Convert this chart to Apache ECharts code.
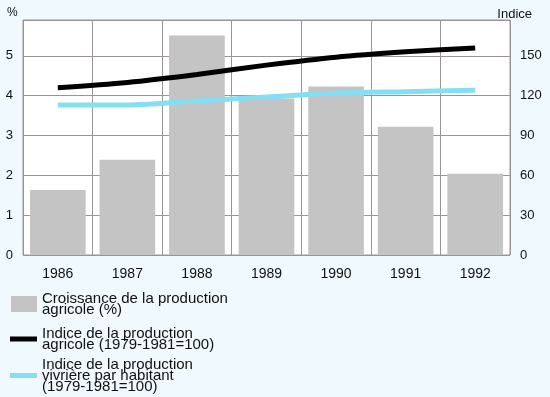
<!DOCTYPE html>
<html><head><meta charset="utf-8">
<script src="https://cdn.jsdelivr.net/npm/echarts@6/dist/echarts.min.js"></script>
<style>html,body{margin:0;padding:0;background:#f0f9fd;}#c{width:550px;height:397px;}</style>
</head><body><div id="c"></div>
<script>
const years = ['1986','1987','1988','1989','1990','1991','1992'];
const croissance = [1.63, 2.39, 5.51, 3.93, 4.23, 3.22, 2.04];
const indiceAgricole = [126, 130, 136, 143, 149, 153, 156];
const indiceVivriere = [113, 113, 116, 119, 122, 123, 124];
const seriesNames = [
  'Croissance de la production\nagricole (%)',
  'Indice de la production\nagricole (1979-1981=100)',
  'Indice de la production\nvivrière par habitant\n(1979-1981=100)'
];
const font = 'Liberation Sans, Arial, sans-serif';
const chart = echarts.init(document.getElementById('c'));
const legendText = {fontFamily: font, fontSize: 15, color: '#111', lineHeight: 11};
chart.setOption({
  backgroundColor: '#f0f9fd',
  animation: false,
  title: [
    {text: '%', left: 2, top: 2, textStyle: {fontFamily: font, fontSize: 12, fontWeight: 'normal', color: '#111'}},
    {text: 'Indice', right: 13, top: 3, textStyle: {fontFamily: font, fontSize: 13, fontWeight: 'normal', color: '#111'}}
  ],
  grid: {left: 23, right: 40, top: 20, bottom: 142, show: true, backgroundColor: '#ffffff', borderColor: '#9a9494', borderWidth: 1},
  legend: [
    {data: [seriesNames[0]], left: 6, top: 286, orient: 'vertical', itemWidth: 26, itemHeight: 16, itemGap: 6, textStyle: legendText, icon: 'rect'},
    {data: [seriesNames[1]], left: 5, top: 321, orient: 'vertical', itemWidth: 27, itemHeight: 5, itemGap: 6, textStyle: legendText, icon: 'rect'},
    {data: [seriesNames[2]], left: 5, top: 352, orient: 'vertical', itemWidth: 27, itemHeight: 5, itemGap: 6, textStyle: legendText, icon: 'rect'}
  ],
  xAxis: {
    type: 'category', data: years, boundaryGap: true,
    axisLine: {show: false}, axisTick: {show: false},
    axisLabel: {fontFamily: font, fontSize: 14, color: '#111', margin: 12},
    splitLine: {show: true, lineStyle: {color: '#9a9494', width: 1}}
  },
  yAxis: [
    {type: 'value', min: 0, max: 5.9, interval: 1, position: 'left',
     axisLine: {show: false}, axisTick: {show: false},
     axisLabel: {fontFamily: font, fontSize: 13, color: '#111', margin: 10, showMaxLabel: false},
     splitLine: {show: true, lineStyle: {color: '#9a9494', width: 1}}},
    {type: 'value', min: 0, max: 177, interval: 30, position: 'right',
     axisLine: {show: false}, axisTick: {show: false},
     axisLabel: {fontFamily: font, fontSize: 13, color: '#111', margin: 10, showMaxLabel: false},
     splitLine: {show: false}}
  ],
  series: [
    {name: seriesNames[0], type: 'bar', data: croissance, yAxisIndex: 0, barCategoryGap: '20%',
     itemStyle: {color: '#c4c4c4'}},
    {name: seriesNames[1], type: 'line', data: indiceAgricole, yAxisIndex: 1, smooth: 0.3, symbol: 'none',
     lineStyle: {color: '#000', width: 5}, itemStyle: {color: '#000'}},
    {name: seriesNames[2], type: 'line', data: indiceVivriere, yAxisIndex: 1, smooth: 0.3, symbol: 'none',
     lineStyle: {color: '#84def4', width: 5}, itemStyle: {color: '#84def4'}}
  ]
});
</script></body></html>
